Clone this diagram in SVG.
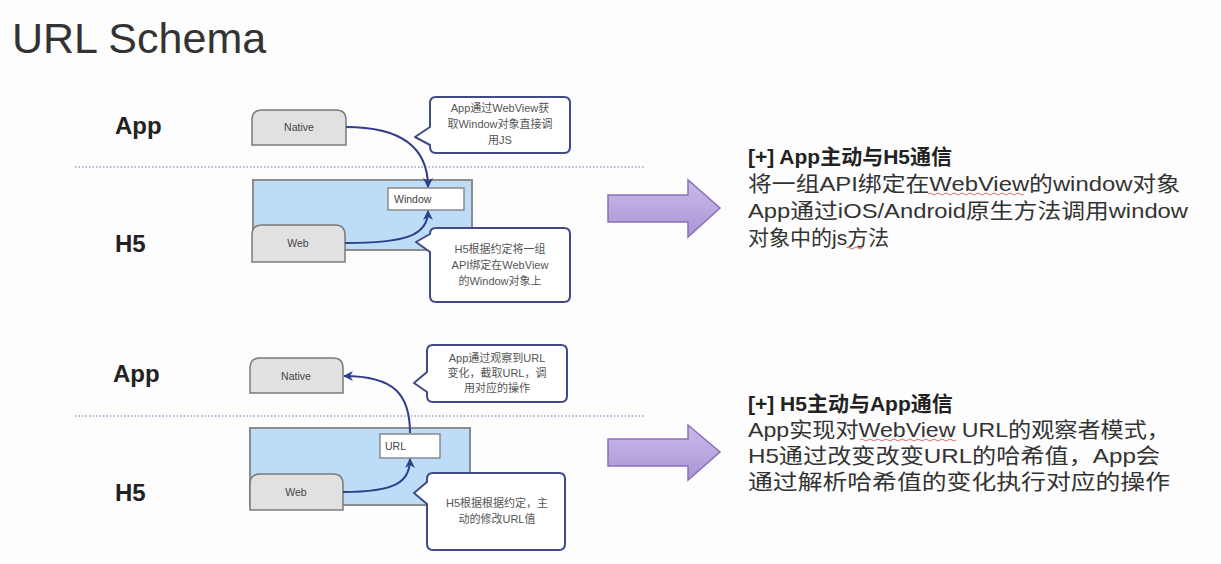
<svg xmlns="http://www.w3.org/2000/svg" width="1221" height="564" viewBox="0 0 1221 564">
<defs>
<style>
.title{font-family:"Liberation Sans","Noto Sans",sans-serif;font-size:43px;fill:#333}
.lbl{font-family:"Liberation Sans",sans-serif;font-size:24px;font-weight:bold;fill:#222}
.node{fill:#e1e1e1;stroke:#7a7a7a;stroke-width:1.5}
.box{fill:#fff;stroke:#8a8a8a;stroke-width:1.5}
.cont{fill:#bcdcf8;stroke:#8c8c8c;stroke-width:2}
.small{font-family:"Liberation Sans",sans-serif;font-size:10.5px;fill:#444}
.call{fill:#fff;stroke:#3f4a86;stroke-width:2;stroke-linejoin:round}
.ct{font-family:"Liberation Sans","Noto Sans CJK SC",sans-serif;font-size:11px;fill:#555;text-anchor:middle}
.conn{fill:none;stroke:#2f3d8a;stroke-width:2}
.dot{stroke:#9aa3cc;stroke-width:1.5;stroke-dasharray:1.5 2}
.big{fill:url(#pg);stroke:#8a70b8;stroke-width:1.5}
.hd{font-family:"Liberation Sans","Noto Sans CJK SC",sans-serif;font-size:21px;font-weight:bold;fill:#222}
.bd{font-family:"Liberation Sans","Noto Sans CJK SC",sans-serif;font-size:21px;fill:#333}
.sq{fill:none;stroke:#e06a6a;stroke-width:1}
</style>
<linearGradient id="pg" x1="0" y1="0" x2="0" y2="1">
<stop offset="0" stop-color="#c9baea"/>
<stop offset="1" stop-color="#ab96d4"/>
</linearGradient>
<marker id="ah" viewBox="0 0 10 10" refX="9" refY="5" markerWidth="10" markerHeight="10" markerUnits="userSpaceOnUse" orient="auto">
<path d="M0,0 L10,5 L0,10 L3,5 z" fill="#2f3d8a"/>
</marker>
</defs>
<rect width="1221" height="564" fill="#fdfdfd"/>
<text class="title" x="12" y="53">URL Schema</text>

<g id="labels">
<text class="lbl" x="115" y="134">App</text>
<text class="lbl" x="115" y="252">H5</text>
<text class="lbl" x="113" y="382">App</text>
<text class="lbl" x="115" y="501">H5</text>
</g>

<g id="dividers">
<line class="dot" x1="75" y1="167" x2="645" y2="167"/>
<line class="dot" x1="75" y1="416" x2="645" y2="416"/>
</g>

<!-- Section 1 -->
<g id="h5-container-1"><rect class="cont" x="253" y="180" width="219" height="70"/></g>
<g id="native-1">
<path class="node" d="M252,145 V120 Q252,110 262,110 H336 Q346,110 346,120 V145 Z"/>
<text class="small" x="299" y="131" text-anchor="middle">Native</text>
</g>
<g id="window-1">
<rect class="box" x="388" y="188" width="76" height="22"/>
<text class="small" x="394" y="203">Window</text>
</g>
<g id="web-1">
<path class="node" d="M252,262 V235 Q252,225 262,225 H335 Q345,225 345,235 V262 Z"/>
<text class="small" x="298" y="247" text-anchor="middle">Web</text>
</g>
<g id="callout-1">
<path class="call" d="M436,97 H564 Q570,97 570,103 V147 Q570,153 564,153 H436 Q430,153 430,147 V145 L415,137 L430,127 V103 Q430,97 436,97 Z"/>
<text class="ct" x="500" y="112">App通过WebView获</text>
<text class="ct" x="500" y="128">取Window对象直接调</text>
<text class="ct" x="500" y="144">用JS</text>
</g>
<g id="callout-2">
<path class="call" d="M436,228 H564 Q570,228 570,234 V296 Q570,302 564,302 H436 Q430,302 430,296 V252 L416,242 L430,234 V234 Q430,228 436,228 Z"/>
<text class="ct" x="500" y="253">H5根据约定将一组</text>
<text class="ct" x="500" y="269">API绑定在WebView</text>
<text class="ct" x="500" y="285">的Window对象上</text>
</g>

<!-- Section 2 -->
<g id="h5-container-2"><rect class="cont" x="250" y="428" width="220" height="77"/></g>
<g id="native-2">
<path class="node" d="M250,393 V368 Q250,358 260,358 H333 Q343,358 343,368 V393 Z"/>
<text class="small" x="296" y="380" text-anchor="middle">Native</text>
</g>
<g id="url-2">
<rect class="box" x="380" y="434" width="60" height="24"/>
<text class="small" x="385" y="450">URL</text>
</g>
<g id="web-2">
<path class="node" d="M250,510 V484 Q250,474 260,474 H333 Q343,474 343,484 V510 Z"/>
<text class="small" x="296" y="496" text-anchor="middle">Web</text>
</g>
<g id="callout-3">
<path class="call" d="M433,345 H561 Q567,345 567,351 V396 Q567,402 561,402 H433 Q427,402 427,396 V392 L414,383 L427,372 V351 Q427,345 433,345 Z"/>
<text class="ct" x="497" y="362">App通过观察到URL</text>
<text class="ct" x="497" y="377">变化，截取URL，调</text>
<text class="ct" x="497" y="392">用对应的操作</text>
</g>
<g id="callout-4">
<path class="call" d="M433,473 H559 Q565,473 565,479 V544 Q565,550 559,550 H433 Q427,550 427,544 V504 L414,493 L427,482 V479 Q427,473 433,473 Z"/>
<text class="ct" x="497" y="507">H5根据根据约定，主</text>
<text class="ct" x="497" y="523">动的修改URL值</text>
</g>

<g id="connectors">
<path class="conn" marker-end="url(#ah)" d="M346,127 C 402,127 428,148 428,187"/>
<path class="conn" marker-end="url(#ah)" d="M345,243 C 405,243 428,236 428,211"/>
<path class="conn" marker-end="url(#ah)" d="M410,433 C 410,395 395,376 344,376"/>
<path class="conn" marker-end="url(#ah)" d="M343,492 C 396,492 410,482 410,459"/>
</g>

<g id="arrow-1"><polygon class="big" points="608,195 688,195 688,180 720,208 688,237 688,222 608,222"/></g>
<g id="arrow-2"><polygon class="big" points="608,439 688,439 688,425 720,452 688,480 688,466 608,466"/></g>

<g id="text-1">
<text class="hd" x="748" y="164">[+] App主动与H5通信</text>
<text class="bd" x="748" y="191" textLength="432" lengthAdjust="spacingAndGlyphs">将一组API绑定在WebView的window对象</text>
<text class="bd" x="748" y="218" textLength="440" lengthAdjust="spacingAndGlyphs">App通过iOS/Android原生方法调用window</text>
<text class="bd" x="748" y="245">对象中的js方法</text>
<path class="sq" d="M928,194 q2,-2 4,0 t4,0 t4,0 t4,0 t4,0 t4,0 t4,0 t4,0 t4,0 t4,0 t4,0 t4,0 t4,0 t4,0 t4,0 t4,0 t4,0 t4,0 t4,0 t4,0 t4,0 t4,0 t4,0 t4,0"/>
<path class="sq" d="M846,248 q2,-2 4,0 t4,0 t4,0 t4,0"/>
</g>
<g id="text-2">
<text class="hd" x="748" y="411">[+] H5主动与App通信</text>
<text class="bd" x="748" y="437" textLength="422" lengthAdjust="spacingAndGlyphs">App实现对WebView URL的观察者模式，</text>
<text class="bd" x="748" y="463" textLength="412" lengthAdjust="spacingAndGlyphs">H5通过改变改变URL的哈希值，App会</text>
<text class="bd" x="748" y="489" textLength="422" lengthAdjust="spacingAndGlyphs">通过解析哈希值的变化执行对应的操作</text>
<path class="sq" d="M860,440 q2,-2 4,0 t4,0 t4,0 t4,0 t4,0 t4,0 t4,0 t4,0 t4,0 t4,0 t4,0 t4,0 t4,0 t4,0 t4,0 t4,0 t4,0 t4,0 t4,0 t4,0 t4,0 t4,0 t4,0 t4,0"/>
</g>
</svg>
